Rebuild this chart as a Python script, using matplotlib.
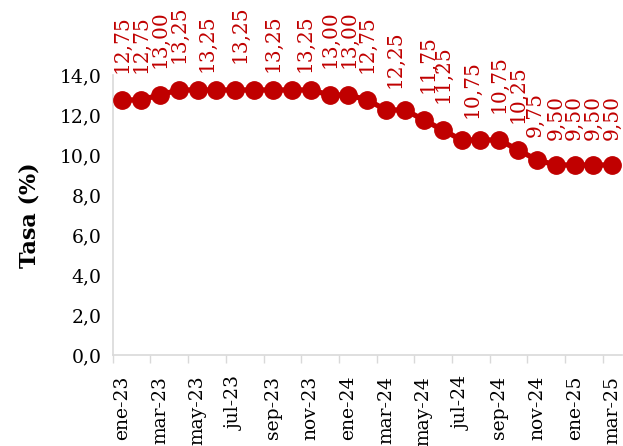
import matplotlib.pyplot as plt

# Tasa de política monetaria mensual (%)
meses = ["ene-23", "feb-23", "mar-23", "abr-23", "may-23", "jun-23", "jul-23",
         "ago-23", "sep-23", "oct-23", "nov-23", "dic-23", "ene-24", "feb-24",
         "mar-24", "abr-24", "may-24", "jun-24", "jul-24", "ago-24", "sep-24",
         "oct-24", "nov-24", "dic-24", "ene-25", "feb-25", "mar-25"]
tasas = [12.75, 12.75, 13.00, 13.25, 13.25, 13.25, 13.25, 13.25, 13.25, 13.25,
         13.25, 13.00, 13.00, 12.75, 12.25, 12.25, 11.75, 11.25, 10.75, 10.75,
         10.75, 10.25, 9.75, 9.50, 9.50, 9.50, 9.50]
# puntos que llevan etiqueta de dato
indices_etiquetas = [0, 1, 2, 3, 4, 6, 8, 10, 11, 12, 13, 14, 16, 17, 18, 20,
                     21, 22, 23, 24, 25, 26]

ROJO = "#C00000"
GRIS = "#D9D9D9"
PX = 0.72  # 1 pixel en puntos (dpi 100)

# ajuste manual de las etiquetas (dx, dy) en pixeles, como en el original
ajustes = {4: (9, 18), 6: (5, 27), 8: (0, 18), 10: (-6, 18), 14: (9, 22),
           16: (4, 27), 18: (10, 22), 22: (-2, 23), 23: (0, 25), 24: (0, 25),
           25: (0, 25), 26: (0, 25)}


def formato_coma(valor, decimales):
    return f"{valor:.{decimales}f}".replace(".", ",")


def construire_graphique():
    plt.rcParams["font.family"] = "DejaVu Serif"
    fig = plt.figure(figsize=(6.23, 4.46), dpi=100)
    ax = fig.add_axes([0.181, 0.204, 0.817, 0.628])

    x = list(range(len(meses)))
    ax.plot(x, tasas, color=ROJO, linewidth=3.8, marker="o", markersize=12.5,
            zorder=3, clip_on=False)

    # Etiquetas de datos verticales sobre los puntos
    for i in indices_etiquetas:
        dx, dy = ajustes.get(i, (0, 27))
        ax.annotate(formato_coma(tasas[i], 2), (x[i], tasas[i]),
                    xytext=(dx * PX, dy * PX), textcoords="offset points",
                    rotation=90, ha="center", va="bottom", color=ROJO,
                    fontsize=14.5, annotation_clip=False)

    ax.set_xlim(-0.5, len(meses) - 0.5)
    ax.set_ylim(0, 14)
    ax.set_yticks([0, 2, 4, 6, 8, 10, 12, 14])
    ax.set_yticklabels([formato_coma(v, 1) for v in [0, 2, 4, 6, 8, 10, 12, 14]],
                       fontsize=13.5)
    ax.tick_params(axis="y", length=0, pad=8)

    ax.set_xticks(x[::2])
    ax.set_xticklabels(meses[::2], rotation=90, fontsize=13.5)
    ax.set_xticks([k - 0.5 for k in range(0, len(meses) + 1, 2)], minor=True)
    ax.tick_params(axis="x", which="major", length=0, pad=15)
    ax.tick_params(axis="x", which="minor", length=6, color=GRIS, width=1)

    ax.set_ylabel("Tasa (%)", fontsize=16, fontweight="bold", labelpad=14)

    for lado in ["top", "right"]:
        ax.spines[lado].set_visible(False)
    for lado in ["left", "bottom"]:
        ax.spines[lado].set_color(GRIS)
        ax.spines[lado].set_linewidth(1.2)

    fig.savefig("out.png", dpi=100)


def main():
    construire_graphique()


if __name__ == "__main__":
    main()
